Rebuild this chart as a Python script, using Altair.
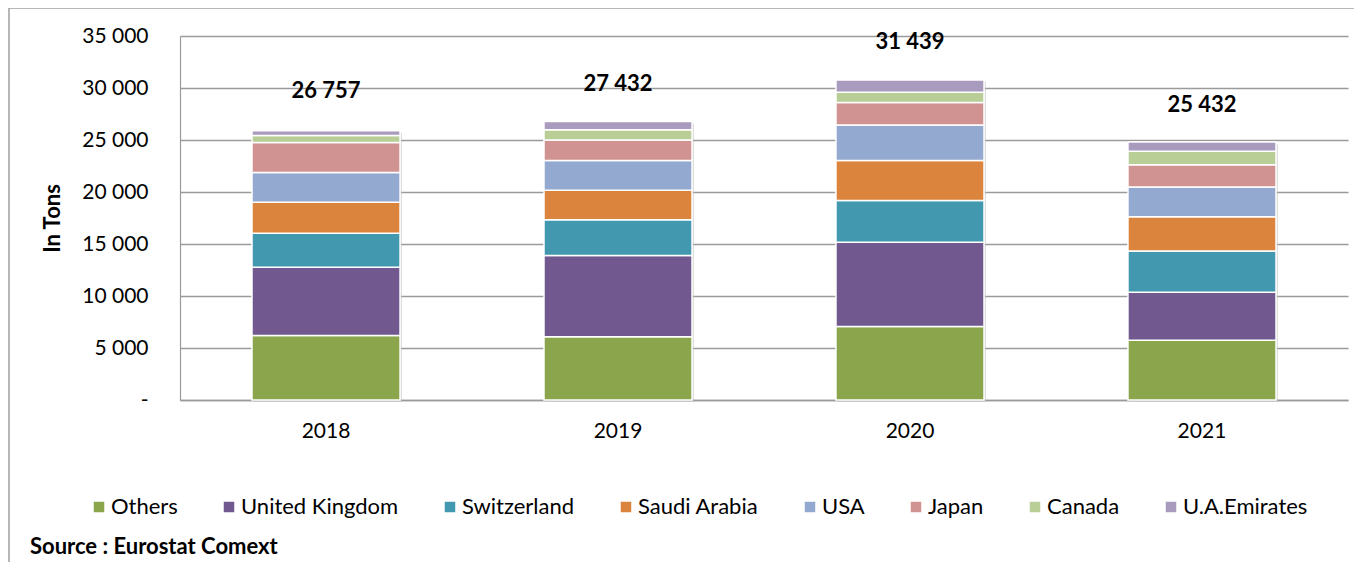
import altair as alt
import pandas as pd

years = ["2018", "2019", "2020", "2021"]
countries = ["Others", "United Kingdom", "Switzerland", "Saudi Arabia", "USA", "Japan", "Canada", "U.A.Emirates"]
colors = ["#8AA54C", "#71588F", "#4198AF", "#DB843D", "#93A9CF", "#D19392", "#B9CD96", "#A99BBD"]

others = [6200, 6070, 7070, 5750]
united_kingdom = [6570, 7830, 8110, 4600]
switzerland = [3270, 3420, 4010, 3980]
saudi_arabia = [2980, 2840, 3850, 3280]
usa = [2860, 2880, 3410, 2860]
japan = [2880, 1970, 2150, 2160]
canada = [680, 980, 990, 1280]
uae = [450, 800, 1190, 900]
totals = [26757, 27432, 31439, 25432]

series = [others, united_kingdom, switzerland, saudi_arabia, usa, japan, canada, uae]
rows = []
for i, (c, vals) in enumerate(zip(countries, series)):
    for y, v in zip(years, vals):
        rows.append({"year": y, "country": c, "value": v, "idx": i})
df = pd.DataFrame(rows)

lab = pd.DataFrame({"year": years, "total": totals,
                    "label": [f"{t:,}".replace(",", " ") for t in totals]})

FONT = "Lato"

xenc = alt.X("year:N", sort=years,
             scale=alt.Scale(paddingInner=0.493, paddingOuter=0.2466),
             axis=alt.Axis(title=None, labelAngle=0, labelFontSize=21, labelColor="#000",
                           labelFont=FONT, ticks=False, labelPadding=20,
                           domainColor="#9a9a9a", domainWidth=1.5, grid=False))
yscale = alt.Scale(domain=[0, 35000], nice=False)

base = alt.Chart(df)

frame = alt.Chart(pd.DataFrame({"a": [0]})).mark_rect(
    fill=None, stroke="#a0a0a0", strokeWidth=1.5
).encode(x=alt.value(-171), x2=alt.value(1400), y=alt.value(-28), y2=alt.value(700))

shadow = base.transform_aggregate(
    tot="sum(value)", groupby=["year"]
).mark_bar(color="#bdbdbd", opacity=0.5, xOffset=2, yOffset=2).encode(
    x=xenc, y=alt.Y("tot:Q", scale=yscale)
)

bars = base.mark_bar(stroke="white", strokeWidth=1.5).encode(
    x=xenc,
    y=alt.Y("value:Q", stack="zero", scale=yscale,
            axis=alt.Axis(title="In Tons", titleFont=FONT, titleFontSize=22, titleFontWeight="bold",
                          titleColor="#000", titleX=-128, titleBaseline="middle",
                          values=[0, 5000, 10000, 15000, 20000, 25000, 30000, 35000],
                          labelExpr="datum.value == 0 ? '-' : replace(format(datum.value, ','), ',', ' ')",
                          labelFont=FONT, labelFontSize=21, labelColor="#000", labelPadding=32,
                          ticks=False, domainColor="#9a9a9a", domainWidth=1.2,
                          gridColor="#9a9a9a", gridWidth=1.6)),
    color=alt.Color("country:N", sort=countries,
                    scale=alt.Scale(domain=countries, range=colors),
                    legend=alt.Legend(title=None, orient="none", legendX=-92, legendY=460,
                                      direction="horizontal", columns=8, symbolType="square",
                                      symbolSize=110, symbolStrokeWidth=0, labelFont=FONT,
                                      labelFontSize=22, labelColor="#000", labelOffset=1,
                                      columnPadding=40, labelLimit=300)),
    order=alt.Order("idx:Q", sort="ascending"),
)

text = alt.Chart(lab).mark_text(dy=-31, fontWeight="bold", fontSize=22, font=FONT, color="#000").encode(
    x=alt.X("year:N", sort=years), y=alt.Y("total:Q", scale=yscale), text="label:N"
)

source = alt.Chart(pd.DataFrame({"t": ["Source : Eurostat Comext"]})).mark_text(
    align="left", baseline="alphabetic", fontWeight="bold", fontSize=22, font=FONT, color="#000"
).encode(x=alt.value(-150), y=alt.value(518), text="t:N")

chart = alt.layer(frame, shadow, bars, text, source).properties(
    width=1168, height=364,
    autosize=alt.AutoSizeParams(type="none"),
    padding={"left": 172, "top": 28, "right": 6, "bottom": 162},
).configure_view(stroke=None)

chart.save("out.html", embed_options={"renderer": "svg", "actions": False})
